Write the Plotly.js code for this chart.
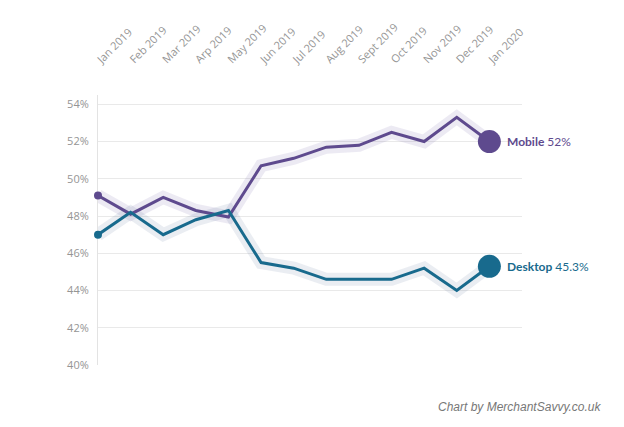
<!DOCTYPE html>
<html>
<head>
<meta charset="utf-8">
<script src="https://cdn.plot.ly/plotly-3.0.1.min.js"></script>
<style>html,body{margin:0;padding:0;background:#fff;}#chart{width:624px;height:427px;}</style>
</head>
<body>
<div id="chart"></div>
<script>
var months = ["Jan 2019","Feb 2019","Mar 2019","Arp 2019","May 2019","Jun 2019","Jul 2019","Aug 2019","Sept 2019","Oct 2019","Nov 2019","Dec 2019","Jan 2020"];
var mobile = [49.1, 48.1, 49.0, 48.3, 47.95, 50.7, 51.1, 51.7, 51.8, 52.5, 52.0, 53.3, 52.0];
var desktop = [47.0, 48.2, 47.0, 47.8, 48.3, 45.5, 45.2, 44.6, 44.6, 44.6, 45.2, 44.0, 45.3];
var yTicks = [40, 42, 44, 46, 48, 50, 52, 54];

var mobileColor = "#5e4a8e";
var desktopColor = "#186a8d";
var xs = months.map(function(_, i){ return i; });
var last = months.length - 1;

var traces = [
  {x: xs, y: mobile, mode: "lines", line: {color: "rgba(110,90,160,0.13)", width: 13}, hoverinfo: "skip"},
  {x: xs, y: desktop, mode: "lines", line: {color: "rgba(80,110,150,0.12)", width: 13}, hoverinfo: "skip"},
  {x: xs, y: mobile, mode: "lines", line: {color: mobileColor, width: 3}, name: "Mobile"},
  {x: xs, y: desktop, mode: "lines", line: {color: desktopColor, width: 3}, name: "Desktop"},
  {x: [xs[0], xs[last]], y: [mobile[0], mobile[last]], mode: "markers", cliponaxis: false,
   marker: {color: mobileColor, size: [8, 23], opacity: 1, line: {width: 0}}, hoverinfo: "skip"},
  {x: [xs[0], xs[last]], y: [desktop[0], desktop[last]], mode: "markers", cliponaxis: false,
   marker: {color: desktopColor, size: [8, 23], opacity: 1, line: {width: 0}}, hoverinfo: "skip"}
];

var plotL = 98, plotR = 102, plotT = 95, plotB = 62;
var plotW = 624 - plotL - plotR, plotH = 427 - plotT - plotB;

var layout = {
  width: 624, height: 427,
  margin: {l: plotL, r: plotR, t: plotT, b: plotB},
  paper_bgcolor: "#fff", plot_bgcolor: "#fff",
  showlegend: false,
  font: {family: "Open Sans, sans-serif", color: "#999"},
  xaxis: {
    side: "top", range: [0, 13], tickvals: xs, ticktext: months,
    tickangle: -45, showgrid: false, zeroline: false, showline: false,
    ticks: "outside", ticklen: 24, tickcolor: "rgba(0,0,0,0)",
    tickfont: {size: 11, color: "#959595"}, fixedrange: true
  },
  yaxis: {
    range: [40, 54.5], tickvals: yTicks, ticktext: yTicks.map(function(v){ return v + "%"; }),
    showgrid: true, gridcolor: "#e9e9e9", gridwidth: 1, zeroline: false,
    showline: true, linecolor: "#e3e3e3", linewidth: 1, layer: "below traces",
    ticks: "outside", ticklen: 6, tickcolor: "rgba(0,0,0,0)",
    tickfont: {size: 11, color: "#959595"}, fixedrange: true
  },
  annotations: [
    {x: xs[last], y: mobile[last], xref: "x", yref: "y", xanchor: "left", yanchor: "middle", xshift: 16, showarrow: false,
     text: "<b>Mobile</b> " + mobile[last] + "%", font: {size: 12, color: mobileColor, family: "Lato, sans-serif"}},
    {x: xs[last], y: desktop[last], xref: "x", yref: "y", xanchor: "left", yanchor: "middle", xshift: 16, showarrow: false,
     text: "<b>Desktop</b> " + desktop[last] + "%", font: {size: 12, color: desktopColor, family: "Lato, sans-serif"}},
    {x: (604 - plotL) / plotW, y: (427 - plotB - 407) / plotH, xref: "paper", yref: "paper", xanchor: "right", yanchor: "middle",
     showarrow: false, text: "<i>Chart by MerchantSavvy.co.uk</i>",
     font: {size: 12, color: "#777", family: "Liberation Sans, Arial, sans-serif"}}
  ]
};

Plotly.newPlot("chart", traces, layout, {displayModeBar: false, staticPlot: true});
</script>
</body>
</html>
